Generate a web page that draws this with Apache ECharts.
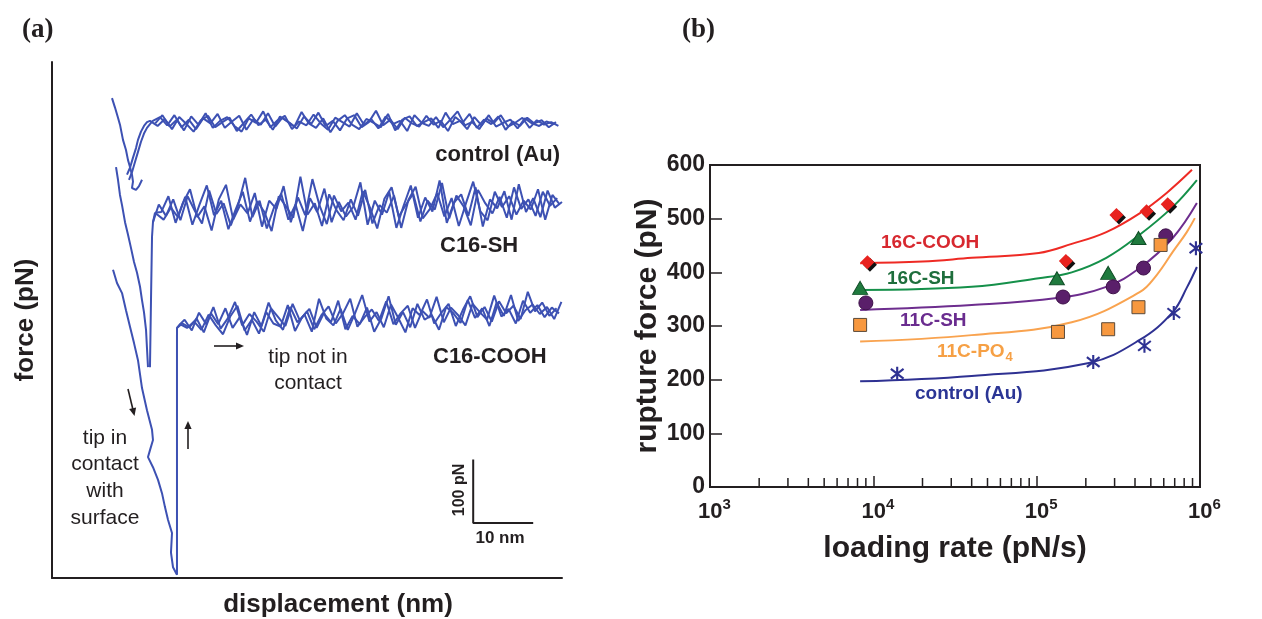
<!DOCTYPE html>
<html>
<head>
<meta charset="utf-8">
<script src="https://cdn.jsdelivr.net/npm/echarts@6/dist/echarts.min.js"></script>
<style>
  html, body { margin: 0; padding: 0; background: #ffffff; }
  #chart { width: 1262px; height: 619px; }
</style>
</head>
<body>
<div id="chart"></div>
<script>
// ---------- (a) force–displacement traces (x: nm, y: pN) ----------
const BASE_STEP = 1.2; // nm between baseline samples of one sweep

const ctlApproach = [[10.0,758],[10.5,743],[11.0,727],[11.33,716],[11.83,692],[12.33,676],[12.67,660],[13.0,649],[13.33,637],[13.5,626],[13.33,616],[14.0,613],[14.5,619],[15.0,629]];
const ctlRetract  = [[12.5,637],[13.0,648],[13.5,664],[14.0,679],[14.33,692],[14.83,705],[15.33,714],[15.83,720],[16.33,722]];
const ctlRetract2 = [[12.83,629],[13.33,641],[13.83,657],[14.33,673],[14.83,689],[15.33,702],[15.83,711],[16.33,717]];
const ctlBaseStartA = 16.8, ctlBaseStartB = 17.2, ctlBaseStartR = 17.6;
const ctlBaseA = [722,728,715,731,712,724,709,726,718,733,
                  711,721,730,708,725,716,734,713,727,719,
                  710,729,717,735,714,722,707,726,731,712,
                  720,738,715,724,709,727,718,713,730,716,
                  722,706,728,719,733,711,724,717,729,708,
                  721,714,727,718,723,712,720];
const ctlBaseB = [718,731,713,724,707,729,716,734,711,722,
                  728,714,705,726,719,737,712,723,730,709,
                  721,715,732,718,708,727,720,713,734,716,
                  725,710,729,717,722,706,731,719,714,728,
                  712,724,737,715,720,709,726,718,731,713,
                  719,727,711,723,716,720,714];
const ctlBaseR = [714,725,709,728,717,705,723,730,712,720,
                  727,706,719,732,715,724,708,729,721,713,
                  736,718,711,726,704,722,731,716,709,725,
                  719,712,733,707,724,729,714,720,726,711,
                  735,717,722,709,728,715,731,713,719,724,
                  710,726,718,714,721,717];

const shApproach = [[10.67,649],[11.0,629],[11.33,605],[11.67,589],[12.17,562],[12.67,542],[13.17,521],[13.67,499],[14.17,482],[14.67,460],[15.0,439],[15.33,420],[15.67,392],[15.83,363],[16.0,333]];
const shRetract  = [[16.33,333],[16.5,439],[16.67,539],[16.83,562],[17.17,577]];
const shBaseStartA = 17.8, shBaseStartB = 18.2, shBaseStartR = 18.6;
const shBaseA = [590,572,598,565,603,580,560,612,575,592,
                 557,588,632,570,596,552,585,607,566,590,
                 548,600,578,615,562,594,571,586,625,558,
                 596,574,610,553,588,620,569,601,579,628,
                 561,593,606,572,617,555,598,584,611,566,
                 622,578,600,570,612,585,594];
const shBaseB = [578,603,561,592,614,570,587,549,598,621,
                 566,590,576,608,555,596,583,619,562,601,
                 573,630,588,559,604,579,593,566,611,585,
                 552,599,617,571,590,607,563,596,582,624,
                 568,604,587,557,613,592,576,602,569,617,
                 583,598,572,610,588,600];
const shBaseR = [566,585,570,602,558,590,620,573,596,551,
                 582,610,563,595,578,548,603,587,569,634,
                 574,592,556,606,581,565,598,572,613,560,
                 589,577,604,553,597,618,568,583,608,571,
                 600,556,592,626,579,565,610,586,603,574,
                 596,582,614,566,605,590];

const cooApproach = [[10.17,487],[10.83,466],[11.67,450],[12.33,423],[13.0,397],[13.67,371],[14.33,344],[15.0,300],[15.83,265],[16.67,234],[16.83,218],[16.33,202],[16.0,191],[16.83,175],[17.67,155],[18.33,134],[18.83,112],[19.33,92],[20.0,71],[19.83,40],[20.17,17],[20.83,5]];
const cooRetract  = [[20.83,5],[20.83,395],[21.33,401]];
const cooBaseStartA = 21.7, cooBaseStartB = 22.1, cooBaseStartR = 22.5;
const cooBaseA = [402,396,410,388,418,401,426,395,412,384,
                  420,398,435,407,392,428,404,416,389,441,
                  410,399,425,392,418,447,405,420,396,432,
                  411,388,426,415,440,402,419,433,398,424,
                  445,412,428,405,437,418,430,409,452,421,
                  435,414,426];
const cooBaseB = [408,391,419,401,428,394,410,436,399,417,
                  405,389,426,412,398,433,407,421,393,415,
                  429,402,418,441,397,412,424,406,437,401,
                  418,430,395,422,411,444,404,427,415,399,
                  433,420,408,446,413,425,402,438,419,431,
                  412,427,418];
const cooBaseR = [395,405,392,416,399,385,413,430,391,408,
                  386,420,402,397,431,390,412,425,395,418,
                  404,438,393,414,401,427,389,410,445,400,
                  420,396,433,408,415,392,428,418,403,439,
                  411,426,398,435,414,447,406,423,432,417,
                  428,409,436];

// scale bar: 10 nm by 100 pN
const scaleBar = [[70.2,187],[70.2,87],[80.2,87]];

// ---------- (b) rupture force vs loading rate ----------
const rateCOOH16 = [9.2e3, 1.51e5, 3.08e5, 4.71e5, 6.34e5];
const forceCOOH16 = [419, 421, 507, 514, 527];
const rateSH16 = [8.3e3, 1.33e5, 2.74e5, 4.2e5];
const forceSH16 = [371, 389, 399, 464];
const rateSH11 = [9.0e3, 1.45e5, 2.94e5, 4.51e5, 6.17e5];
const forceSH11 = [343, 354, 373, 408, 468];
const ratePO4 = [8.3e3, 1.35e5, 2.74e5, 4.2e5, 5.74e5];
const forcePO4 = [302, 289, 294, 335, 451];
const rateAu = [1.4e4, 2.22e5, 4.57e5, 6.91e5, 9.44e5];
const forceAu = [211, 233, 263, 324, 445];

const fitCOOH16 = [[8.3e3,417],[2e4,420],[4e4,427],[1.03e5,436],[1.64e5,453],[2.67e5,475],[4.27e5,510],[6.25e5,548],[8.93e5,591]];
const fitSH16 = [[8.3e3,367],[4e4,373],[1.03e5,389],[1.64e5,400],[2.67e5,427],[4.27e5,470],[6.81e5,522],[9.57e5,572]];
const fitSH11 = [[8.3e3,330],[4e4,339],[1.33e5,352],[2.67e5,373],[4.27e5,408],[6.81e5,464],[9.57e5,529]];
const fitPO4 = [[8.3e3,271],[4e4,283],[1.64e5,307],[4.27e5,363],[5.43e5,395],[6.81e5,438],[8.3e5,475],[9.3e5,501]];
const fitAu = [[8.3e3,197],[4e4,207],[2.09e5,231],[4.27e5,274],[6.81e5,326],[8.32e5,372],[9.57e5,410]];

const minorTickRates = [2e3,3e3,4e3,5e3,6e3,7e3,8e3,9e3, 2e4,3e4,4e4,5e4,6e4,7e4,8e4,9e4, 2e5,3e5,4e5,5e5,6e5,7e5,8e5,9e5];
const yTicks = { min: 0, max: 600, interval: 100 };

// ---------- styling ----------
const INK = '#231f20';
const TRACE = '#3d51b3';
const FONT = '"Liberation Sans", Arial, Helvetica, sans-serif';
const SERIF = '"Liberation Serif", "Times New Roman", serif';
const ASTERISK = 'path://M-1.5,-10L1.5,-10L1.5,10L-1.5,10Z' +
  'M-8.08,-8.18L9.92,5.82L8.08,8.18L-9.92,-5.82Z' +
  'M-9.92,5.82L8.08,-8.18L9.92,-5.82L-8.08,8.18Z';

const sampled = (start, values) => values.map((v, i) => [+(start + i * BASE_STEP).toFixed(2), v]);
const pairs = (xs, ys) => xs.map((x, i) => [x, ys[i]]);

function trace(data) {
  return { type: 'line', xAxisIndex: 0, yAxisIndex: 0, data, symbol: 'none', silent: true,
           lineStyle: { color: TRACE, width: 2 }, z: 2 };
}
function fit(data, color) {
  return { type: 'line', xAxisIndex: 1, yAxisIndex: 1, data, symbol: 'none', smooth: 0.4, silent: true,
           lineStyle: { color, width: 2 }, z: 3 };
}
function points(data, symbol, size, fill, border, extra) {
  return Object.assign({ type: 'scatter', xAxisIndex: 1, yAxisIndex: 1, data, symbol, symbolSize: size, silent: true,
           itemStyle: { color: fill, borderColor: border, borderWidth: border ? 1 : 0, opacity: 1 }, z: 5 }, extra || {});
}

// ---------- annotations ----------
const G = [];
function text(str, x, y, opts, rotation) {
  G.push({ type: 'text', x, y, rotation: rotation || 0, silent: true,
    style: Object.assign({ text: str, fill: INK, fontFamily: FONT, fontSize: 22, fontWeight: 'bold',
                           align: 'left', verticalAlign: 'middle' }, opts) });
}
function arrow(x1, y1, x2, y2) {
  const dx = x2 - x1, dy = y2 - y1, L = Math.hypot(dx, dy), ux = dx / L, uy = dy / L;
  const hl = 8, hw = 3.6, bx = x2 - ux * hl, by = y2 - uy * hl;
  G.push({ type: 'line', silent: true, shape: { x1, y1, x2: bx + ux, y2: by + uy }, style: { stroke: INK, lineWidth: 1.6 } });
  G.push({ type: 'polygon', silent: true, shape: { points: [[x2, y2], [bx - uy * hw, by + ux * hw], [bx + uy * hw, by - ux * hw]] },
           style: { fill: INK } });
}

text('(a)', 22, 30, { fontFamily: SERIF, fontSize: 27 });
text('(b)', 682, 30, { fontFamily: SERIF, fontSize: 27 });

text('control (Au)', 560, 155, { align: 'right' });
text('C16-SH', 440, 246);
text('C16-COOH', 433, 357);
text('tip not in\ncontact', 308, 370, { fontWeight: 'normal', fontSize: 21, align: 'center', lineHeight: 26 });
text('tip in\ncontact\nwith\nsurface', 105, 478, { fontWeight: 'normal', fontSize: 21, align: 'center', lineHeight: 26.7 });
text('100 pN', 460, 490, { fontSize: 16, align: 'center' }, Math.PI / 2);
text('10 nm', 500, 538, { fontSize: 17, align: 'center' });
text('displacement (nm)', 338, 605, { fontSize: 26, align: 'center' });
arrow(214, 346, 244, 346);
arrow(128, 389, 134.5, 416);
arrow(188, 449, 188, 421);

text('16C-COOH', 881, 243, { fontSize: 19, fill: '#d7282f' });
text('16C-SH', 887, 279, { fontSize: 19, fill: '#1e6e3c' });
text('11C-SH', 900, 321, { fontSize: 19, fill: '#6a2c8f' });
text('11C-PO{s|4}', 937, 352, { fontSize: 19, fill: '#f6a045',
  rich: { s: { fontSize: 13, fontWeight: 'bold', fill: '#f6a045', fontFamily: FONT, padding: [10, 0, 0, 1] } } });
text('control (Au)', 915, 394, { fontSize: 19, fill: '#2b3595' });

// ---------- chart ----------
const chart = echarts.init(document.getElementById('chart'), null, { renderer: 'canvas' });
const axisLine = { show: true, onZero: false, lineStyle: { color: INK, width: 2 } };

chart.setOption({
  animation: false,
  backgroundColor: '#ffffff',
  grid: [
    { left: 52, top: 62, width: 510, height: 516 },
    { left: 710, top: 165, width: 490, height: 322, show: true, borderColor: INK, borderWidth: 2 }
  ],
  xAxis: [
    { gridIndex: 0, type: 'value', min: 0, max: 85, axisLine, axisTick: { show: false },
      axisLabel: { show: false }, splitLine: { show: false } },
    { gridIndex: 1, type: 'log', logBase: 10, min: 1e3, max: 1e6, axisLine,
      axisTick: { show: true, inside: true, length: 11, lineStyle: { color: INK, width: 1.5 } },
      splitLine: { show: false },
      axisLabel: {
        margin: 10,
        formatter: v => '{b|10}{s|' + Math.round(Math.log10(v)) + '}',
        rich: {
          b: { fontSize: 22, fontWeight: 'bold', color: INK, fontFamily: FONT, padding: [6, 0, 0, 9],
               lineHeight: 26, verticalAlign: 'bottom' },
          s: { fontSize: 15, fontWeight: 'bold', color: INK, fontFamily: FONT, verticalAlign: 'top', lineHeight: 16 }
        }
      },
      name: 'loading rate (pN/s)', nameLocation: 'middle', nameGap: 47,
      nameTextStyle: { fontFamily: FONT, fontWeight: 'bold', fontSize: 30, color: INK } }
  ],
  yAxis: [
    { gridIndex: 0, type: 'value', min: 0, max: 815, axisLine, axisTick: { show: false },
      axisLabel: { show: false }, splitLine: { show: false },
      name: 'force (pN)', nameLocation: 'middle', nameGap: 13, nameRotate: 90,
      nameTextStyle: { fontFamily: FONT, fontWeight: 'bold', fontSize: 26, color: INK } },
    { gridIndex: 1, type: 'value', min: yTicks.min, max: yTicks.max, interval: yTicks.interval, axisLine,
      axisTick: { show: true, inside: true, length: 12, lineStyle: { color: INK, width: 1.5 } },
      splitLine: { show: false },
      axisLabel: { margin: 5, fontSize: 23, fontWeight: 'bold', color: INK, fontFamily: FONT },
      name: 'rupture force (pN)', nameLocation: 'middle', nameGap: 37, nameRotate: 90,
      nameTextStyle: { fontFamily: FONT, fontWeight: 'bold', fontSize: 30, color: INK } }
  ],
  graphic: G,
  series: [
    // (a) traces: approach dips, retract jumps and the overlapping free-tip sweeps
    trace(ctlApproach),
    trace(ctlRetract.concat(sampled(ctlBaseStartR, ctlBaseR))),
    trace(ctlRetract2.concat(sampled(ctlBaseStartA, ctlBaseA))),
    trace(sampled(ctlBaseStartB, ctlBaseB)),
    trace(shApproach),
    trace(shRetract.concat(sampled(shBaseStartR, shBaseR))),
    trace([shRetract[3]].concat(sampled(shBaseStartA, shBaseA))),
    trace([shRetract[4]].concat(sampled(shBaseStartB, shBaseB))),
    trace(cooApproach),
    trace(cooRetract.concat(sampled(cooBaseStartR, cooBaseR))),
    trace([cooRetract[1]].concat(sampled(cooBaseStartA, cooBaseA))),
    trace([cooRetract[2]].concat(sampled(cooBaseStartB, cooBaseB))),
    { type: 'line', xAxisIndex: 0, yAxisIndex: 0, data: scaleBar, symbol: 'none', silent: true,
      lineStyle: { color: INK, width: 2 }, z: 2 },

    // (b) minor ticks of the log axis
    { type: 'custom', xAxisIndex: 1, yAxisIndex: 1, silent: true, z: 4,
      data: minorTickRates.map(r => [r, 0]),
      renderItem: (params, api) => {
        const p = api.coord([api.value(0), api.value(1)]);
        return { type: 'line', shape: { x1: p[0], y1: p[1], x2: p[0], y2: p[1] - 9 },
                 style: { stroke: INK, lineWidth: 1.5 } };
      } },

    // (b) fitted curves
    fit(fitCOOH16, '#ee2a24'),
    fit(fitSH16, '#15904a'),
    fit(fitSH11, '#6d2d8e'),
    fit(fitPO4, '#f9a34f'),
    fit(fitAu, '#2e3192'),

    // (b) measured points
    points(pairs(rateCOOH16, forceCOOH16), 'diamond', 14, '#111111', null, { symbolOffset: [2.5, 2.5], z: 5 }),
    points(pairs(rateCOOH16, forceCOOH16), 'diamond', 14, '#e8231f', null, { z: 6 }),
    points(pairs(rateSH16, forceSH16), 'triangle', [15, 13], '#1f7a3e', '#0f4d26'),
    points(pairs(rateSH11, forceSH11), 'circle', 14, '#5a1f6a', '#3d1048'),
    points(pairs(ratePO4, forcePO4), 'rect', 13, '#f7983f', '#5a4a3a'),
    points(pairs(rateAu, forceAu), ASTERISK, 14, '#2e3192', null)
  ]
});
</script>
</body>
</html>
